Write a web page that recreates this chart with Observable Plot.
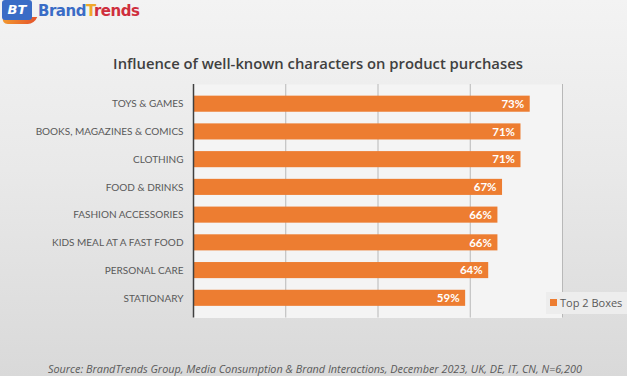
<!DOCTYPE html>
<html>
<head>
<meta charset="utf-8">
<script src="https://cdn.jsdelivr.net/npm/d3@7"></script>
<script src="https://cdn.jsdelivr.net/npm/@observablehq/plot@0.6"></script>
<style>
  html, body { margin: 0; padding: 0; overflow: hidden; }
  #wrap {
    position: relative; width: 627px; height: 376px; overflow: hidden;
    background: linear-gradient(to bottom, #f3f3f3 0%, #e9e9e9 45%, #d9d9d9 100%);
    font-family: Lato, "Open Sans", sans-serif;
  }
  #chart { position: absolute; left: 0; top: 0; }
  #logo { position: absolute; left: 2px; top: 0px; width: 160px; height: 28px; }
  #logo .icon { position: absolute; left: 0; top: 0; width: 30px; height: 20px; background: #3a6cc6;
    border-radius: 3px; color: #fff; font: bold 13px "DejaVu Sans", sans-serif; text-align: center; line-height: 19px; font-style: italic; }
  #logo .swoosh { position: absolute; left: 0; top: 17px; width: 34px; height: 7px; background: linear-gradient(to right, #f29a2e, #e5552b);
    border-radius: 0 0 8px 8px; transform: skewX(-20deg); }
  #logo .name { position: absolute; left: 36px; top: 2px; font: bold 15px "DejaVu Sans", sans-serif; letter-spacing: -0.5px; }
  #title { position: absolute; left: 0; width: 636px; top: 53px; text-align: center;
    font: 600 14.8px "Open Sans", sans-serif; color: #404040; }
  #legend { position: absolute; left: 546px; top: 292px; width: 90px; height: 22px; background: #ededed;
    font: 11px "Open Sans", sans-serif; color: #595959; white-space: nowrap; }
  #legend .sw { position: absolute; left: 4px; top: 7px; width: 7px; height: 7px; background: #ED7D31; }
  #legend .lt { position: absolute; left: 14px; top: 3px; }
  #source { position: absolute; left: 48px; top: 361px; font: italic 10.85px "Open Sans", sans-serif; color: #595959; white-space: nowrap; }
</style>
</head>
<body>
<div id="wrap">
  <div id="chart"></div>
  <div id="logo"><div class="swoosh"></div><div class="icon">BT</div>
    <div class="name"><span style="color:#3a6cc6">Brand</span><span style="color:#f0a82a">T</span><span style="color:#cf2f3d">rends</span></div></div>
  <div id="title"></div>
  <div id="legend"><div class="sw"></div><div class="lt"></div></div>
  <div id="source"></div>
</div>
<script>
const categories = ["TOYS & GAMES", "BOOKS, MAGAZINES & COMICS", "CLOTHING", "FOOD & DRINKS",
  "FASHION ACCESSORIES", "KIDS MEAL AT A FAST FOOD", "PERSONAL CARE", "STATIONARY"];
const values = [73, 71, 71, 67, 66, 66, 64, 59];
const xTicks = [0, 20, 40, 60, 80];
const seriesName = "Top 2 Boxes";
const titleText = "Influence of well-known characters on product purchases";
const sourceText = "Source: BrandTrends Group, Media Consumption & Brand Interactions, December 2023, UK, DE, IT, CN, N=6,200";

const data = categories.map((c, i) => ({category: c, value: values[i]}));

document.getElementById("title").textContent = titleText;
document.querySelector("#legend .lt").textContent = seriesName;
document.getElementById("source").textContent = sourceText;

const chart = Plot.plot({
  width: 627,
  height: 330,
  marginLeft: 193,
  marginRight: 65,
  marginTop: 84,
  marginBottom: 12.5,
  style: {background: "transparent", fontFamily: "Lato, sans-serif"},
  x: {domain: [0, 80], ticks: xTicks, axis: null},
  y: {domain: categories, padding: 0.42, round: false, label: null},
  marks: [
    Plot.frame({fill: "#f4f4f4", stroke: null}),
    Plot.gridX(xTicks.filter(t => t > 0), {stroke: "#b8b8b8", strokeOpacity: 1, strokeWidth: 1}),
    Plot.barX(data, {x: "value", y: "category", fill: "#ED7D31"}),
    Plot.ruleX([0], {stroke: "#404040", strokeWidth: 1.5}),
    Plot.text(data, {x: "value", y: "category", text: d => d.value + "%", textAnchor: "end", dx: -6,
      fill: "white", fontWeight: "bold", fontSize: 11.5}),
    Plot.axisY({tickSize: 0, tickPadding: 10, fontSize: 10, color: "#595959", label: null})
  ]
});
document.getElementById("chart").appendChild(chart);
</script>
</body>
</html>
